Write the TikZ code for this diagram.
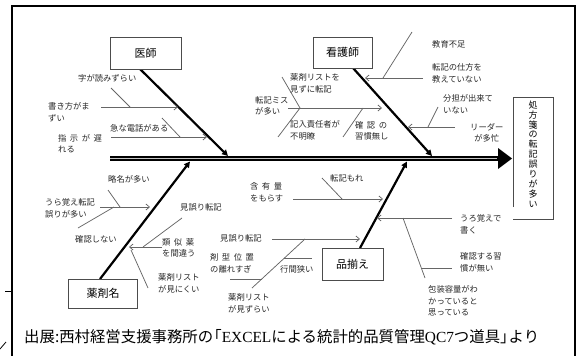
\documentclass[tikz,border=0pt]{standalone}
\usepackage{fontspec}
\setmainfont{Noto Sans CJK JP}
\newfontfamily\lserif{Liberation Serif}
\usetikzlibrary{arrows.meta}
\newcommand\jsp{\hspace{3.5pt}}
\begin{document}
\begin{tikzpicture}[x=1pt,y=-1pt,
  lbl/.style={font=\fontsize{8.3}{11.5}\selectfont, inner sep=0pt, anchor=west, align=left, text=black!85},
  subln/.style={draw=black!60, line width=0.75pt},
  subarr/.style={subln, -{Straight Barb[length=3.5pt,width=6pt]}},
  bone/.style={draw=black, line width=2.2pt, -{Triangle[length=6pt,width=6pt]}},
  catbox/.style={draw=black!70, line width=0.8pt, fill=white, inner sep=0pt, font=\fontsize{11}{13}\selectfont},
]
\useasboundingbox (0,0) rectangle (581,356);
% outer frame and edge marks
\draw[line width=1.6pt] (12,356) -- (12,6) -- (575,6) -- (575,356);
\draw[line width=1pt] (5,291) -- (12,291);
\draw[line width=0.8pt] (0,349) -- (6,342);

% spine
\coordinate (sp0) at (110,158.5);
\coordinate (sp1) at (500,158.5);
\coordinate (sp2) at (497,158.5);
\draw[line width=5.5pt] (sp0) -- (sp1);
\draw[line width=1.8pt, gray!45] (sp0) -- (sp2);
\fill (498,148) -- (512,158.5) -- (498,169) -- cycle;

% effect box
\node[font=\fontsize{9}{9.9}\selectfont, align=center, inner sep=0pt] (effect) at (533,154)
  {処\\方\\箋\\の\\転\\記\\誤\\り\\が\\多\\い};
\draw[draw=black!70, line width=0.8pt] (513,207) -- (513,97) -- (553,97) -- (553,219) -- (513,219);

% main bones
\coordinate (dA) at (140,69);  \coordinate (dB) at (228,156);
\coordinate (nA) at (353,68);  \coordinate (nB) at (432,156);
\coordinate (mA) at (100,279); \coordinate (mB) at (190,161.5);
\coordinate (sA) at (360,248); \coordinate (sB) at (407,161.5);
\draw[bone] (dA) -- (dB);
\draw[bone] (nA) -- (nB);
\draw[bone] (mA) -- (mB);
\draw[bone] (sA) -- (sB);

% category boxes
\node[catbox, minimum width=71pt, minimum height=32pt] (doc) at (145.5,53) {医師};
\node[catbox, minimum width=59pt, minimum height=31pt] (nurse) at (342.5,52.5) {看護師};
\node[catbox, minimum width=69pt, minimum height=29pt] (drug) at (103,293.5) {薬剤名};
\node[catbox, minimum width=61pt, minimum height=32pt] (stock) at (352.5,264) {品揃え};

% ---------- doctor group
\coordinate (a1s) at (101,107); \coordinate (a1e) at (178,107);
\coordinate (l1s) at (111,88);  \coordinate (l1e) at (130,107);
\coordinate (a2s) at (111,137); \coordinate (a2e) at (207,137);
\coordinate (l2s) at (162,118); \coordinate (l2e) at (180,137);
\draw[subarr] (a1s) -- (a1e);
\draw[subln] (l1s) -- (l1e);
\draw[subarr] (a2s) -- (a2e);
\draw[subln] (l2s) -- (l2e);
\node[lbl] (t1) at (78,78) {字が読みずらい};
\node[lbl] (t2) at (48,112.5) {書き方がま\\ずい};
\node[lbl] (t3) at (110,128) {急な電話がある};
\node[lbl] (t4) at (58,143.5) {指\jsp 示\jsp が\jsp 遅\\れる};

% ---------- nurse group
\coordinate (a3s) at (288,108); \coordinate (a3e) at (382,108);
\coordinate (l3s) at (282,77);  \coordinate (l3e) at (300,108);
\coordinate (l4e) at (278,137);
\coordinate (l5s) at (363,108); \coordinate (l5e) at (343,137);
\coordinate (a4s) at (423,78);  \coordinate (a4e) at (365,78);
\coordinate (l6s) at (412,32);  \coordinate (l6e) at (383,78);
\coordinate (a5s) at (455,127); \coordinate (a5e) at (408,127);
\coordinate (l7s) at (428,127); \coordinate (l7e) at (438,107);
\draw[subarr] (a3s) -- (a3e);
\draw[subln] (l3s) -- (l3e) -- (l4e);
\draw[subln] (l5s) -- (l5e);
\draw[subarr] (a4s) -- (a4e);
\draw[subln] (l6s) -- (l6e);
\draw[subarr] (a5s) -- (a5e);
\draw[subln] (l7s) -- (l7e);
\node[lbl] (t5) at (290,83.5) {薬剤リストを\\見ずに転記};
\node[lbl] (t6) at (255,106) {転記ミス\\が多い};
\node[lbl] (t7) at (290,130.5) {記入責任者が\\不明瞭};
\node[lbl] (t8) at (355,131) {確\jsp 認\jsp の\\習慣無し};
\node[lbl] (t9) at (432,44) {教育不足};
\node[lbl] (t10) at (432,73.5) {転記の仕方を\\教えていない};
\node[lbl] (t11) at (443,104) {分担が出来て\\いない};
\node[lbl, align=center] (t12) at (470,133) {リーダー\\が多忙};

% ---------- drug-name group
\coordinate (a6s) at (100,207); \coordinate (a6e) at (150,207);
\coordinate (l8s) at (108,190); \coordinate (l8e) at (120,207);
\coordinate (l9s) at (114,207); \coordinate (l9e) at (78,228);
\coordinate (a7s) at (162,247); \coordinate (a7e) at (129,247);
\coordinate (l10s) at (182,218); \coordinate (l10e) at (143,247);
\coordinate (l11s) at (131,250); \coordinate (l11e) at (148,288);
\draw[subarr] (a6s) -- (a6e);
\draw[subln] (l8s) -- (l8e);
\draw[subln] (l9s) -- (l9e);
\draw[subarr] (a7s) -- (a7e);
\draw[subln] (l10s) -- (l10e);
\draw[subln] (l11s) -- (l11e);
\node[lbl] (t13) at (108,179) {略名が多い};
\node[lbl] (t14) at (45,208.5) {うら覚え転記\\誤りが多い};
\node[lbl] (t15) at (75,239) {確認しない};
\node[lbl] (t16) at (180,207) {見誤り転記};
\node[lbl] (t17) at (162,248) {類\jsp 似\jsp 薬\\を間違う};
\node[lbl] (t18) at (158,283.5) {薬剤リスト\\が見にくい};

% ---------- stock group
\coordinate (a8s) at (293,199); \coordinate (a8e) at (383,199);
\coordinate (l12s) at (322,178); \coordinate (l12e) at (342,199);
\coordinate (a9s) at (272,239); \coordinate (a9e) at (360,239);
\coordinate (l13s) at (305,239); \coordinate (l13e) at (252,288);
\coordinate (l14s) at (284,258); \coordinate (l14e) at (312,258);
\coordinate (l15s) at (230,279); \coordinate (l15e) at (262,279);
\coordinate (a10s) at (452,218); \coordinate (a10e) at (377,218);
\coordinate (l16s) at (403,218); \coordinate (l16e) at (425,278);
\coordinate (l17s) at (421,268); \coordinate (l17e) at (452,268);
\draw[subarr] (a8s) -- (a8e);
\draw[subln] (l12s) -- (l12e);
\draw[subarr] (a9s) -- (a9e);
\draw[subln] (l13s) -- (l13e);
\draw[subln] (l14s) -- (l14e);
\draw[subln] (l15s) -- (l15e);
\draw[subarr] (a10s) -- (a10e);
\draw[subln] (l16s) -- (l16e);
\draw[subln] (l17s) -- (l17e);
\node[lbl] (t19) at (250,192.5) {含\jsp 有\jsp 量\\をもらす};
\node[lbl] (t20) at (330,178) {転記もれ};
\node[lbl] (t21) at (220,238) {見誤り転記};
\node[lbl] (t22) at (210,263.5) {剤\jsp 型\jsp 位\jsp 置\\の離れすぎ};
\node[lbl] (t23) at (280,269) {行間狭い};
\node[lbl] (t24) at (228,303.5) {薬剤リスト\\が見ずらい};
\node[lbl] (t25) at (460,224.5) {うろ覚えで\\書く};
\node[lbl] (t26) at (460,262.5) {確認する習\\慣が無い};
\node[lbl] (t27) at (428,301) {包装容量がわ\\かっていると\\思っている};

% caption
\node[anchor=west, inner sep=0pt, font=\fontsize{15.4}{16.5}\selectfont] (cap) at (24,337)
  {出展:西村経営支援事務所の\kern-0.45em「{\lserif EXCEL}による統計的品質管理{\lserif QC7}つ道具」\kern-0.45em より};
\end{tikzpicture}
\end{document}
